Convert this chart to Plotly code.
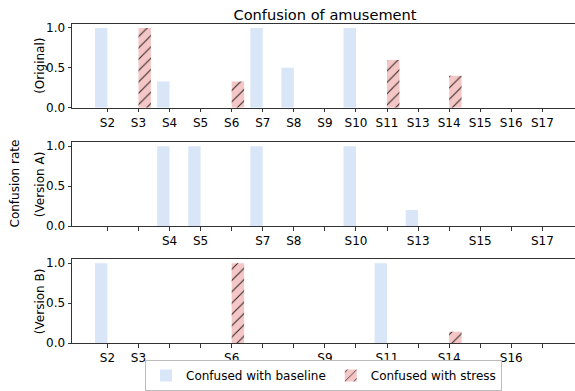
import plotly.graph_objects as go

subjects = ["S2", "S3", "S4", "S5", "S6", "S7", "S8", "S9", "S10", "S11", "S13", "S14", "S15", "S16", "S17"]

orig_baseline = [1.0, 0, 0.33, 0, 0, 1.0, 0.5, 0, 1.0, 0, 0, 0, 0, 0, 0]
orig_stress = [0, 1.0, 0, 0, 0.33, 0, 0, 0, 0, 0.6, 0, 0.4, 0, 0, 0]

verA_baseline = [0, 0, 1.0, 1.0, 0, 1.0, 0, 0, 1.0, 0, 0.2, 0, 0, 0, 0]
verA_stress = [0, 0, 0, 0, 0, 0, 0, 0, 0, 0, 0, 0, 0, 0, 0]
verA_labels = ["", "", "S4", "S5", "", "S7", "S8", "", "S10", "", "S13", "", "S15", "", "S17"]

verB_baseline = [1.0, 0, 0, 0, 0, 0, 0, 0, 0, 1.0, 0, 0, 0, 0, 0]
verB_stress = [0, 0, 0, 0, 1.0, 0, 0, 0, 0, 0, 0, 0.14, 0, 0, 0]
verB_labels = ["S2", "S3", "", "", "S6", "", "", "S9", "", "S11", "", "S14", "", "S16", ""]

row_names = ["(Original)", "(Version A)", "(Version B)"]

BLUE = "#d9e6f8"
PINK = "#f5c6c6"
FONT = "DejaVu Sans"
FS = 12

W, H = 575, 391
ML, MT, MB, MR = 72, 24, 47, 0
PW = W - ML - MR
PH = H - MT - MB

positions = list(range(len(subjects)))

rows = [
    (orig_baseline, orig_stress, subjects),
    (verA_baseline, verA_stress, verA_labels),
    (verB_baseline, verB_stress, verB_labels),
]
domains = [[0.7375, 1.0], [0.3667, 0.6292], [0.0, 0.2625]]

fig = go.Figure()
for i, (base, stress, labels) in enumerate(rows):
    xa = "x" if i == 0 else f"x{i+1}"
    ya = "y" if i == 0 else f"y{i+1}"
    fig.add_trace(go.Bar(
        x=positions, y=base, offset=-0.4, width=0.4,
        marker=dict(color=BLUE, line=dict(width=0)),
        name="Confused with baseline", showlegend=(i == 0),
        legendgroup="b", xaxis=xa, yaxis=ya,
    ))
    fig.add_trace(go.Bar(
        x=positions, y=stress, offset=0.0, width=0.4,
        marker=dict(color=PINK, line=dict(width=0),
                    pattern=dict(shape="/", fgcolor="#000000", fgopacity=0.85,
                                 bgcolor=PINK, size=8, solidity=0.12,
                                 fillmode="overlay")),
        name="Confused with stress", showlegend=(i == 0),
        legendgroup="s", xaxis=xa, yaxis=ya,
    ))

axis_common = dict(
    showline=True, linecolor="#333333", linewidth=1,
    ticks="outside", ticklen=3.5, tickwidth=1, tickcolor="#333333",
    showgrid=False, zeroline=False,
    tickfont=dict(family=FONT, size=FS, color="black"),
)

annotations = [dict(text="Confusion rate", textangle=-90, x=(14 - ML) / PW, xref="paper",
                    xanchor="center", y=0.5, yref="paper", yanchor="middle",
                    showarrow=False, font=dict(family=FONT, size=FS, color="black"))]
for i, name in enumerate(row_names):
    annotations.append(dict(text=name, textangle=-90, x=(40 - ML) / PW, xref="paper",
                            xanchor="center", y=(domains[i][0] + domains[i][1]) / 2,
                            yref="paper", yanchor="middle", showarrow=False,
                            font=dict(family=FONT, size=FS, color="black")))

layout = dict(
    barmode="overlay",
    width=W, height=H,
    margin=dict(l=ML, r=MR, t=MT, b=MB),
    paper_bgcolor="white", plot_bgcolor="white",
    font=dict(family=FONT, size=FS, color="black"),
    title=dict(text="Confusion of amusement", x=(325 - ML) / PW, xref="paper", xanchor="center",
               y=1 - 15 / H, yref="container", yanchor="middle",
               font=dict(family=FONT, size=14.6, color="black")),
    legend=dict(orientation="h", x=0.5, xanchor="center", xref="paper",
                y=-0.053, yanchor="top", yref="paper",
                bordercolor="#bbbbbb", borderwidth=1,
                font=dict(family=FONT, size=FS, color="black"),
                itemwidth=30, traceorder="normal"),
    annotations=annotations,
)

for i, (base, stress, labels) in enumerate(rows):
    xk = "xaxis" if i == 0 else f"xaxis{i+1}"
    yk = "yaxis" if i == 0 else f"yaxis{i+1}"
    ya = "y" if i == 0 else f"y{i+1}"
    xa = "x" if i == 0 else f"x{i+1}"
    layout[xk] = dict(axis_common, domain=[0, 1], anchor=ya, range=[-1.14, 15.05],
                      tickmode="array", tickvals=positions, ticktext=labels,
                      mirror=True)
    layout[yk] = dict(axis_common, domain=domains[i], anchor=xa, range=[0, 1.05],
                      tickmode="array", tickvals=[0, 0.5, 1.0],
                      ticktext=["0.0", "0.5", "1.0"], mirror=False)

fig.update_layout(**layout)

fig.write_html("out.html", config={"displayModeBar": False},
               post_script="document.body.style.margin='0px';")
